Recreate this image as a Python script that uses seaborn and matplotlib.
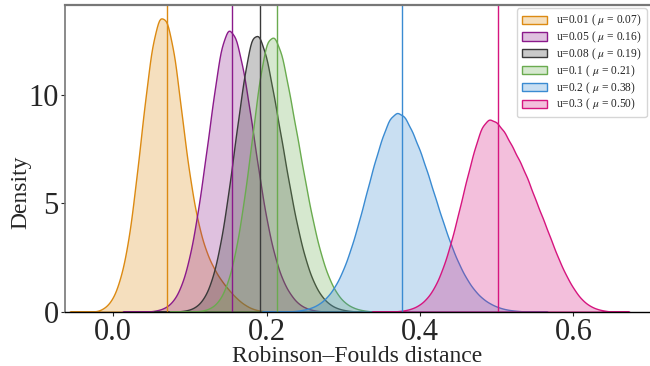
import numpy as np
import pandas as pd
import matplotlib
matplotlib.use("Agg")
import matplotlib.pyplot as plt
import seaborn as sns

sns.set_style("ticks")
plt.rcParams["font.family"] = ["Liberation Serif", "DejaVu Serif"]
plt.rcParams["mathtext.fontset"] = "stix"

# Mutation rates and the mean Robinson-Foulds distance of each run
u_values = ["0.01", "0.05", "0.08", "0.1", "0.2", "0.3"]
mean_rf = [0.0706, 0.1553, 0.1912, 0.2141, 0.3765, 0.5012]
line_colors = ["#dc8a12", "#8b1a8b", "#3a3a3a", "#6aab4f", "#3a8bd2", "#d6157f"]

# Binned RF distances (bin centres) and the density observed in each bin
rf_u001 = [-0.02, -0.01, 0.00, 0.01, 0.02, 0.03, 0.04, 0.05, 0.06, 0.07, 0.08, 0.09,
           0.10, 0.11, 0.12, 0.13, 0.14, 0.15, 0.16, 0.17, 0.18, 0.19, 0.20]
dens_u001 = [0.02, 0.2, 0.62, 1.6, 3.3, 6.2, 9.5, 12.5, 14.0, 13.8, 12.1, 9.0,
             6.2, 4.2, 2.9, 2.1, 1.5, 1.05, 0.65, 0.35, 0.15, 0.05, 0.01]

rf_u005 = [0.05, 0.06, 0.07, 0.08, 0.09, 0.10, 0.11, 0.12, 0.13, 0.14, 0.15, 0.16,
           0.17, 0.18, 0.19, 0.20, 0.21, 0.22, 0.23, 0.24, 0.25, 0.26, 0.27]
dens_u005 = [0.02, 0.08, 0.22, 0.56, 1.28, 2.56, 4.53, 7.08, 9.78, 12.3, 13.3, 12.8,
             11.2, 8.89, 6.4, 4.2, 2.6, 1.5, 0.84, 0.4, 0.18, 0.07, 0.02]

rf_u008 = [0.09, 0.10, 0.11, 0.12, 0.13, 0.14, 0.15, 0.16, 0.17, 0.18, 0.19, 0.20,
           0.21, 0.22, 0.23, 0.24, 0.25, 0.26, 0.27, 0.28, 0.29, 0.30, 0.31]
dens_u008 = [0.03, 0.09, 0.27, 0.70, 1.59, 3.16, 5.46, 8.24, 10.85, 12.9, 13.0, 11.9,
             9.94, 7.89, 5.79, 3.94, 2.48, 1.44, 0.78, 0.39, 0.18, 0.08, 0.03]

rf_u01 = [0.11, 0.12, 0.13, 0.14, 0.15, 0.16, 0.17, 0.18, 0.19, 0.20, 0.21, 0.22,
          0.23, 0.24, 0.25, 0.26, 0.27, 0.28, 0.29, 0.30, 0.31, 0.32, 0.33]
dens_u01 = [0.02, 0.07, 0.22, 0.59, 1.40, 2.85, 5.07, 7.83, 10.8, 12.8, 13.0, 12.1,
            10.16, 8.19, 6.13, 4.26, 2.75, 1.65, 0.92, 0.47, 0.23, 0.10, 0.04]

rf_u02 = [0.23, 0.24, 0.25, 0.26, 0.27, 0.28, 0.29, 0.30, 0.31, 0.32, 0.33, 0.34,
          0.35, 0.36, 0.37, 0.38, 0.39, 0.40, 0.41, 0.42, 0.43, 0.44, 0.45, 0.46,
          0.47, 0.48, 0.49, 0.50, 0.51, 0.52, 0.53]
dens_u02 = [0.015, 0.04, 0.10, 0.20, 0.39, 0.71, 1.21, 1.94, 2.93, 4.14, 5.50, 6.86,
            8.03, 9.0, 9.3, 9.1, 8.35, 7.49, 6.43, 5.28, 4.16, 3.13, 2.26, 1.56,
            1.03, 0.65, 0.40, 0.23, 0.12, 0.06, 0.03]

rf_u03 = [0.37, 0.38, 0.39, 0.40, 0.41, 0.42, 0.43, 0.44, 0.45, 0.46, 0.47, 0.48,
          0.49, 0.50, 0.51, 0.52, 0.53, 0.54, 0.55, 0.56, 0.57, 0.58, 0.59, 0.60,
          0.61, 0.62, 0.63, 0.64]
dens_u03 = [0.02, 0.06, 0.15, 0.33, 0.66, 1.21, 2.06, 3.22, 4.65, 6.19, 7.59, 8.8,
            9.2, 9.0, 8.55, 7.85, 7.15, 6.35, 5.35, 4.45, 3.5, 2.55, 1.75, 1.1,
            0.6, 0.3, 0.13, 0.05]

rf_bins = [rf_u001, rf_u005, rf_u008, rf_u01, rf_u02, rf_u03]
rf_dens = [dens_u001, dens_u005, dens_u008, dens_u01, dens_u02, dens_u03]

KERNEL_SD = 0.006

fig = plt.figure(figsize=(6.5, 3.66), dpi=100)
ax = fig.add_axes([65 / 650, 54.3 / 366, 585 / 650, 306.7 / 366])

for u, mu, col, xs, ws in zip(u_values, mean_rf, line_colors, rf_bins, rf_dens):
    df = pd.DataFrame({"rf": xs, "w": ws})
    spread = np.sqrt(np.cov(df["rf"], aweights=df["w"]))
    sns.kdeplot(data=df, x="rf", weights="w", bw_method=KERNEL_SD / spread,
                fill=True, color=col, alpha=0.27, linewidth=1.0, ax=ax,
                label=rf"u={u} ( $\mu$ = {mu:.2f})")
    ax.axvline(mu, color=col, linewidth=1.0)

ax.set_xlim(-0.063, 0.70)
ax.set_ylim(0, 14.15)
ax.set_xticks([0.0, 0.2, 0.4, 0.6])
ax.set_xticklabels(["0.0", "0.2", "0.4", "0.6"])
ax.set_yticks([0, 5, 10])
ax.tick_params(axis="both", labelsize=22, length=3, width=0.8, pad=1.5)
ax.set_xlabel("Robinson\u2013Foulds distance", fontsize=17, labelpad=-1)
ax.set_ylabel("Density", fontsize=17)
ax.yaxis.set_label_coords(-0.058, 0.39)

ax.spines["right"].set_visible(False)
ax.spines["top"].set_color("#777777")
ax.spines["top"].set_linewidth(1.6)
ax.spines["left"].set_color("#777777")
ax.spines["left"].set_linewidth(1.2)
ax.spines["bottom"].set_color("black")
ax.spines["bottom"].set_linewidth(1.0)

ax.legend(loc="upper right", fontsize=8.3, frameon=True, borderaxespad=0.3,
          handlelength=2.2, handleheight=0.7, labelspacing=0.12)

fig.savefig("out.png", dpi=100)
